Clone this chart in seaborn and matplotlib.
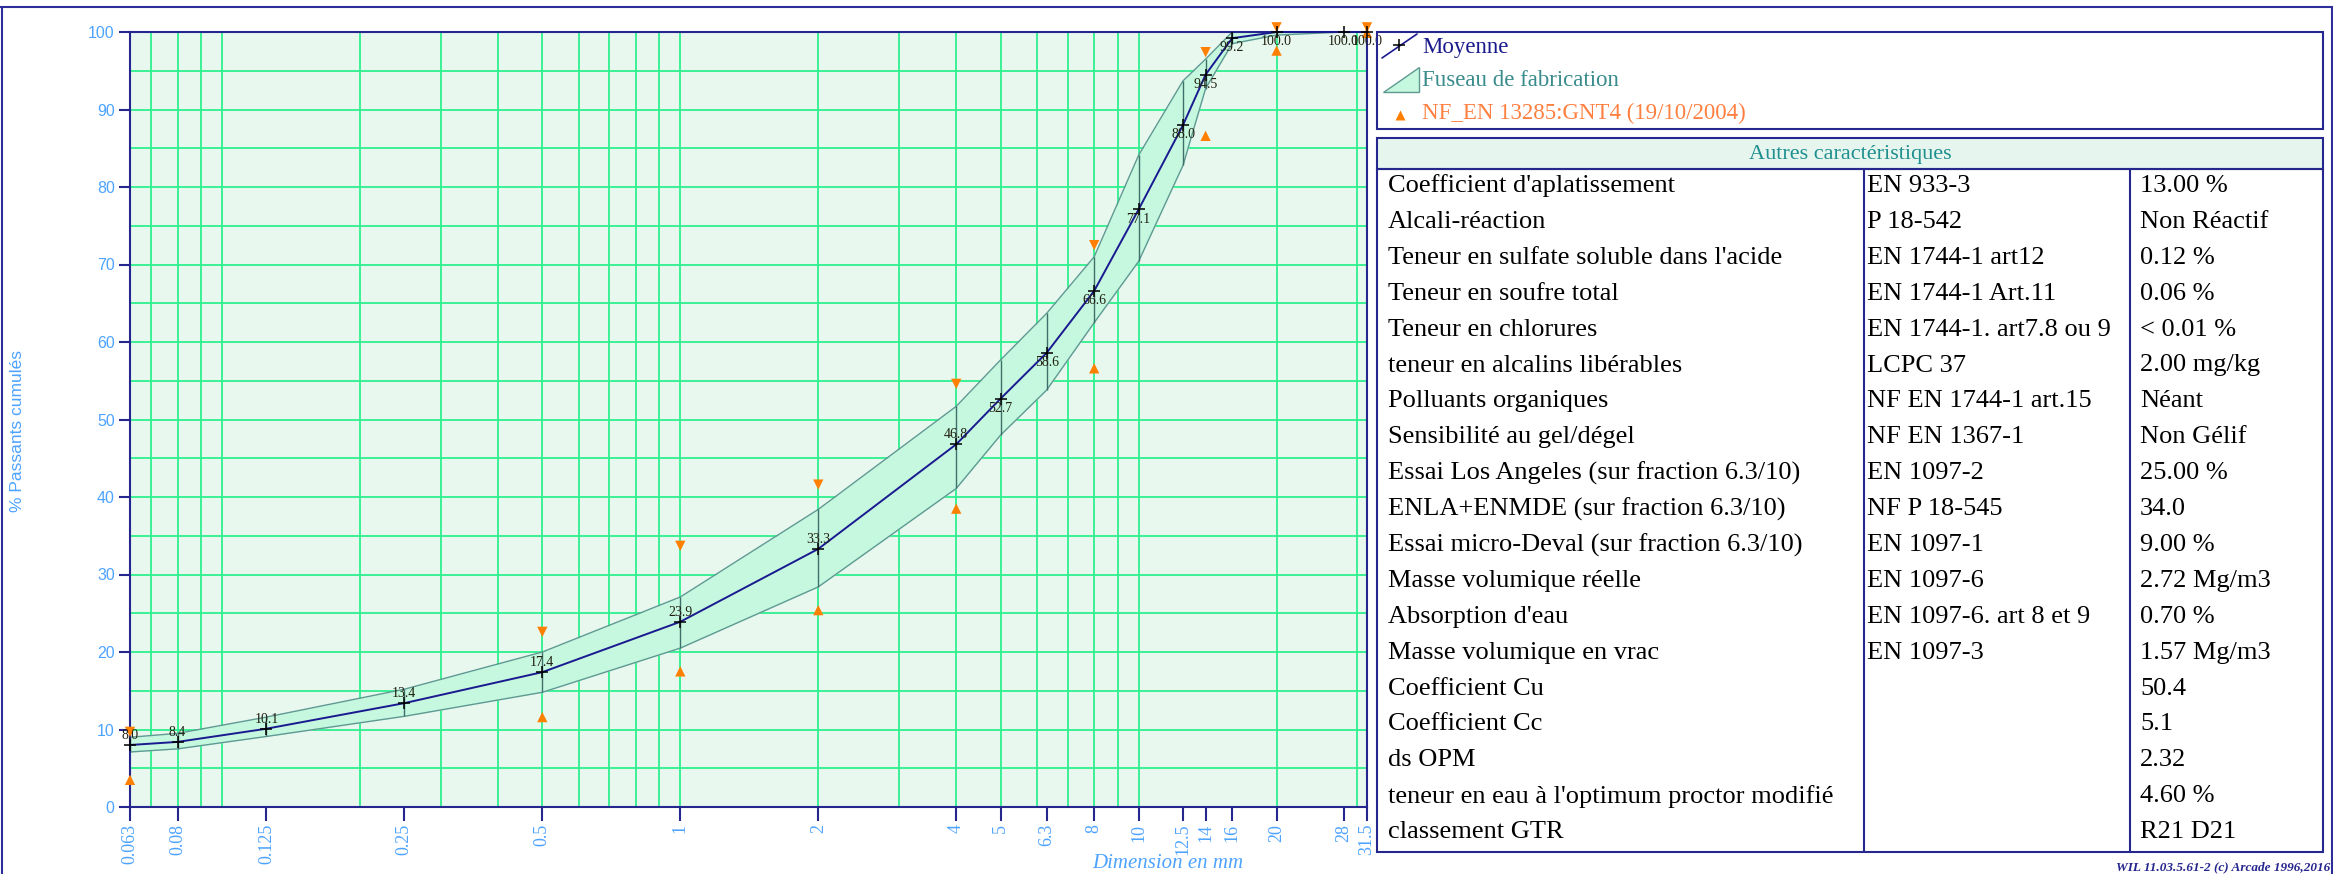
import numpy as np
import seaborn as sns
import matplotlib.pyplot as plt
from matplotlib.patches import Rectangle, Polygon
from matplotlib.ticker import FixedLocator, LogLocator, MultipleLocator, NullFormatter

# tamis (mm) et passants cumulés (%)
sizes = [0.063, 0.08, 0.125, 0.25, 0.5, 1, 2, 4, 5, 6.3, 8, 10, 12.5, 14, 16, 20, 28, 31.5]
mean_pass = [8.0, 8.4, 10.1, 13.4, 17.4, 23.9, 33.3, 46.8, 52.7, 58.6, 66.6, 77.1, 88.0, 94.5, 99.2, 100.0, 100.0, 100.0]
fuseau_hi = [9.0, 9.5, 11.6, 15.2, 20.0, 27.1, 38.4, 51.7, 57.7, 63.7, 71.0, 84.1, 93.7, 96.5, 100.0, 100.0, 100.0, 100.0]
fuseau_lo = [7.1, 7.5, 9.1, 11.7, 14.8, 20.5, 28.4, 41.1, 48.0, 53.8, 62.5, 70.4, 82.8, 92.7, 98.5, 99.6, 100.0, 100.0]

# limites NF EN 13285 GNT4
spec_sizes = [0.063, 0.5, 1, 2, 4, 8, 14, 20, 31.5]
spec_hi = [9.7, 22.6, 33.7, 41.6, 54.6, 72.5, 97.4, 100.6, 100.6]
spec_lo = [3.5, 11.6, 17.5, 25.4, 38.5, 56.6, 86.6, 97.6, 99.9]

tick_labels = ['0.063', '0.08', '0.125', '0.25', '0.5', '1', '2', '4', '5', '6.3', '8',
               '10', '12.5', '14', '16', '20', '28', '31.5']

legend_labels = ['Moyenne', 'Fuseau de fabrication', 'NF_EN 13285:GNT4 (19/10/2004)']

carac = ["Coefficient d'aplatissement", 'Alcali-réaction', "Teneur en sulfate soluble dans l'acide",
         'Teneur en soufre total', 'Teneur en chlorures', 'teneur en alcalins libérables',
         'Polluants organiques', 'Sensibilité au gel/dégel', 'Essai Los Angeles (sur fraction 6.3/10)',
         'ENLA+ENMDE (sur fraction 6.3/10)', 'Essai micro-Deval (sur fraction 6.3/10)',
         'Masse volumique réelle', "Absorption d'eau", 'Masse volumique en vrac', 'Coefficient Cu',
         'Coefficient Cc', 'ds OPM', "teneur en eau à l'optimum proctor modifié", 'classement GTR']
normes = ['EN 933-3', 'P 18-542', 'EN 1744-1 art12', 'EN 1744-1 Art.11', 'EN 1744-1. art7.8 ou 9',
          'LCPC 37', 'NF EN 1744-1 art.15', 'NF EN 1367-1', 'EN 1097-2', 'NF P 18-545', 'EN 1097-1',
          'EN 1097-6', 'EN 1097-6. art 8 et 9', 'EN 1097-3', '', '', '', '', '']
valeurs = ['13.00 %', 'Non Réactif', '0.12 %', '0.06 %', '< 0.01 %', '2.00 mg/kg', 'Néant', 'Non Gélif',
           '25.00 %', '34.0', '9.00 %', '2.72 Mg/m3', '0.70 %', '1.57 Mg/m3', '50.4', '5.1', '2.32',
           '4.60 %', 'R21 D21']

NAVY = '#26268f'
LBLUE = '#4da3ff'
GREEN = '#2ef08e'
ORANGE = '#ff7f00'

sns.set_theme(style='white')
plt.rcParams['font.family'] = ['Liberation Serif', 'DejaVu Serif']

W, H = 2333, 874
fig = plt.figure(figsize=(W / 100, H / 100), dpi=100)
ax = fig.add_axes([130 / W, 1 - 807 / H, (1367 - 130) / W, (807 - 32) / H])
ax.set_facecolor('#e8f8ef')
ax.set_xscale('log')
ax.set_xlim(0.063, 31.5)
ax.set_ylim(0, 100)

# grille
ax.xaxis.set_major_locator(FixedLocator(sizes))
ax.xaxis.set_minor_locator(LogLocator(base=10, subs=np.arange(1, 10), numticks=60))
ax.xaxis.set_minor_formatter(NullFormatter())
ax.xaxis.remove_overlapping_locs = False
ax.yaxis.set_major_locator(MultipleLocator(10))
ax.yaxis.set_minor_locator(MultipleLocator(5))
ax.set_axisbelow(True)
ax.xaxis.grid(True, which='minor', color=GREEN, lw=1.3)
ax.xaxis.grid(False, which='major')
ax.yaxis.grid(True, which='both', color=GREEN, lw=1.3)

# fuseau
ax.fill_between(sizes, fuseau_lo, fuseau_hi, color='#c6f7df', lw=0, zorder=1)
sns.lineplot(x=sizes, y=fuseau_hi, color='#5e9a92', lw=1, ax=ax, zorder=2)
sns.lineplot(x=sizes, y=fuseau_lo, color='#5e9a92', lw=1, ax=ax, zorder=2)
ax.vlines(sizes, fuseau_lo, fuseau_hi, color='#3f6f6a', lw=1, zorder=2)

# moyenne
sns.lineplot(x=sizes, y=mean_pass, color='#1a1a90', lw=1.4, marker='+', markersize=9,
             markeredgecolor='black', markeredgewidth=1.1, ax=ax, zorder=4, clip_on=False)
for x, y in zip(sizes, mean_pass):
    dy = 7 if x <= 4 else -7
    ax.annotate(f'{y:.1f}', (x, y), xytext=(0, dy), textcoords='offset points', ha='center',
                va='center', fontsize=10, color='#202010', zorder=5, annotation_clip=False)

# limites de la norme
sns.scatterplot(x=spec_sizes, y=spec_hi, marker='v', s=55, color=ORANGE, edgecolor='none',
                ax=ax, zorder=3, clip_on=False)
sns.scatterplot(x=spec_sizes, y=spec_lo, marker='^', s=55, color=ORANGE, edgecolor='none',
                ax=ax, zorder=3, clip_on=False)

ax.set_xticks(sizes, tick_labels, rotation=90)
ax.tick_params(axis='x', which='major', direction='out', length=10, width=1.5, color=NAVY,
               labelcolor=LBLUE, labelsize=13, pad=2, bottom=True)
ax.tick_params(axis='x', which='minor', length=0)
ax.tick_params(axis='y', which='major', direction='out', length=8, width=1.5, color=NAVY,
               labelcolor=LBLUE, labelsize=11.5, pad=3, left=True)
ax.tick_params(axis='y', which='minor', length=0)
for lab in ax.get_yticklabels():
    lab.set_fontfamily('Liberation Sans')
for sp in ax.spines.values():
    sp.set_color(NAVY)
    sp.set_linewidth(1.5)
ax.set_xlabel('')
ax.set_ylabel('')

# calque en pixels pour cadre, légende et tableau
ov = fig.add_axes([0, 0, 1, 1], zorder=10)
ov.set_xlim(0, W)
ov.set_ylim(H, 0)
ov.axis('off')
ov.patch.set_alpha(0)

ov.plot([0, W], [7, 7], color='#2e2e9a', lw=1.5)
ov.plot([1.5, 1.5], [7, H], color='#2e2e9a', lw=1.5)
ov.plot([W - 1.5, W - 1.5], [7, H], color='#2e2e9a', lw=1.5)

ov.text(18, 431, '% Passants cumulés', rotation=90, ha='center', va='center', color=LBLUE,
        fontsize=12.5, family='Liberation Sans')
ov.text(1168, 864, 'Dimension en mm', ha='center', va='center', color=LBLUE, fontsize=15,
        style='italic')
ov.text(2330, 867, 'WIL 11.03.5.61-2 (c) Arcade 1996,2016', ha='right', va='center', color=NAVY,
        fontsize=9.5, style='italic', weight='bold')

# légende
ov.add_patch(Rectangle((1377, 32), 946, 97, fill=False, edgecolor=NAVY, lw=1.5))
ov.plot([1382, 1417], [58, 34], color='#1a1a90', lw=1.2)
ov.plot([1399], [45], marker='+', color='black', markersize=9, mew=1.1)
ov.add_patch(Polygon([(1383, 92), (1419, 92), (1419, 67)], closed=True, facecolor='#c6f7df',
                     edgecolor='#5e9a92', lw=1))
ov.plot([1400], [115], marker='^', color=ORANGE, markersize=7, mec='none')
leg_colors = ['#1a1a8c', '#3a8c8c', '#ff7f3f']
for i, (lab, col) in enumerate(zip(legend_labels, leg_colors)):
    ov.text(1422, 47 + i * 33, lab, ha='left', va='center', color=col, fontsize=16.5)

# tableau
ov.add_patch(Rectangle((1377, 138), 946, 31, facecolor='#e6f6ef', edgecolor=NAVY, lw=1.5))
ov.text(1850, 154, 'Autres caractéristiques', ha='center', va='center', color='#1f8f8f',
        fontsize=16)
ov.add_patch(Rectangle((1377, 169), 946, 852 - 169, fill=False, edgecolor=NAVY, lw=1.5))
ov.plot([1864, 1864], [169, 852], color=NAVY, lw=1.5)
ov.plot([2130, 2130], [169, 852], color=NAVY, lw=1.5)
for i, (c, n, v) in enumerate(zip(carac, normes, valeurs)):
    y = 186 + i * 35.9
    ov.text(1388, y, c, ha='left', va='center', fontsize=19, color='black')
    ov.text(1867, y, n, ha='left', va='center', fontsize=19, color='black')
    ov.text(2140, y, v, ha='left', va='center', fontsize=19, color='black')

fig.savefig('out.png', dpi=100, facecolor='white')
